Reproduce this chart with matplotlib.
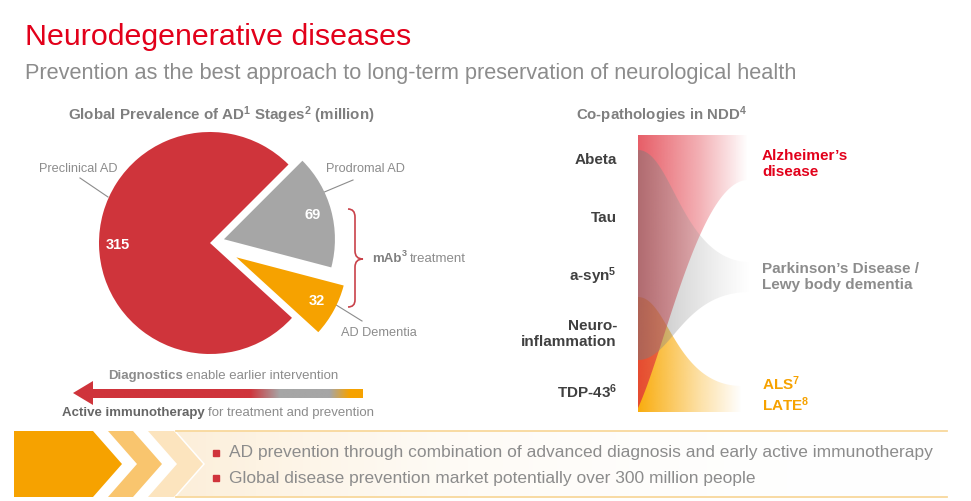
import numpy as np
import matplotlib
matplotlib.use("Agg")
import matplotlib.pyplot as plt
from matplotlib.colors import to_rgb
from matplotlib.patches import Polygon, PathPatch
from matplotlib.path import Path

plt.rcParams['font.family'] = ['Liberation Sans', 'DejaVu Sans']
plt.rcParams['mathtext.fontset'] = 'custom'
plt.rcParams['mathtext.rm'] = 'Liberation Sans'
plt.rcParams['mathtext.bf'] = 'Liberation Sans:bold'
plt.rcParams['mathtext.it'] = 'Liberation Sans:italic'

# ---- data ----
stage_labels = ["Preclinical AD", "AD Dementia", "Prodromal AD"]
stage_values = [315, 32, 69]          # million people
stage_colors = ["#CF343B", "#F6A200", "#A6A6A6"]

pathologies = ["Abeta", "Tau", r"a-syn$^\mathbf{5}$", "Neuro-\ninflammation", r"TDP-43$^\mathbf{6}$"]
diseases = ["Alzheimer’s\ndisease", "Parkinson’s Disease /\nLewy body dementia",
            "ALS$^\\mathbf{7}$\nLATE$^\\mathbf{8}$"]
disease_colors = ["#E2001A", "#8C8C8C", "#F6A200"]

bullets = ["AD prevention through combination of advanced diagnosis and early active immunotherapy",
           "Global disease prevention market potentially over 300 million people"]

GREY = "#8C8C8C"

fig = plt.figure(figsize=(9.71, 5.01), dpi=100)
ax = fig.add_axes([0, 0, 1, 1])
ax.set_xlim(0, 971)
ax.set_ylim(501, 0)
ax.axis("off")
rend = fig.canvas.get_renderer()


def runs(x, y, parts, ha="left"):
    # parts: (text, weight, size, dy, color, gap before); drawn side by side
    objs = []
    for s, w, fs, dy, col, g in parts:
        objs.append(ax.text(x, y + dy, s, fontweight=w, fontsize=fs, color=col, va="center"))
    widths = [t.get_window_extent(rend).width for t in objs]
    gaps = [p[5] for p in parts]
    total = sum(widths) + sum(gaps)
    pos = x - total / 2 if ha == "center" else x
    for t, wd, g in zip(objs, widths, gaps):
        pos += g
        t.set_x(pos)
        pos += wd


def grad_fill(verts, stops, z):
    # horizontal gradient clipped to a polygon
    poly = Polygon(verts, closed=True, facecolor="none", edgecolor="none")
    ax.add_patch(poly)
    xs = np.array([v[0] for v in verts])
    ys = np.array([v[1] for v in verts])
    gx = np.linspace(xs.min(), xs.max(), 400)
    sx = [s[0] for s in stops]
    rgba = np.ones((1, 400, 4))
    for c in range(3):
        rgba[0, :, c] = np.interp(gx, sx, [to_rgb(s[1])[c] for s in stops])
    rgba[0, :, 3] = np.interp(gx, sx, [s[2] for s in stops])
    im = ax.imshow(rgba, extent=(xs.min(), xs.max(), ys.max(), ys.min()),
                   aspect="auto", interpolation="bilinear", zorder=z)
    im.set_clip_path(poly)


def bez(p0, p1, p2, p3, n=60):
    t = np.linspace(0, 1, n)[:, None]
    p0, p1, p2, p3 = map(np.array, (p0, p1, p2, p3))
    return (1 - t) ** 3 * p0 + 3 * (1 - t) ** 2 * t * p1 + 3 * (1 - t) * t ** 2 * p2 + t ** 3 * p3


# ---- titles ----
ax.text(25, 45, "Neurodegenerative diseases", fontsize=21.9, color="#E2001A", va="baseline")
ax.text(25, 79, "Prevention as the best approach to long-term preservation of neurological health",
        fontsize=15.7, color=GREY, va="baseline")
ax.text(221, 115, r"Global Prevalence of AD$^\mathbf{1}$ Stages$^\mathbf{2}$ (million)", fontsize=10.9,
        fontweight="bold", color="#7F7F7F", ha="center", va="center")
ax.text(662, 115, r"Co-pathologies in NDD$^\mathbf{4}$", fontsize=10.8, fontweight="bold",
        color="#7F7F7F", ha="center", va="center")

# ---- pie ----
R = 111
cx, cy = 210, 243
axp = fig.add_axes([(cx - 1.6 * R) / 971, (501 - cy - 1.6 * R) / 501, 3.2 * R / 971, 3.2 * R / 501])
total = sum(stage_values)
axp.pie(stage_values, colors=stage_colors, explode=[0, 0.27, 0.13], startangle=45,
        counterclock=True, autopct=lambda p: f"{p * total / 100:.0f}", pctdistance=0.83,
        textprops=dict(color="white", fontsize=10.5, fontweight="bold"))
axp.set_xlim(-1.6, 1.6)
axp.set_ylim(-1.6, 1.6)
axp.set_aspect("equal")
axp.axis("off")

# leader labels
ax.plot([80, 108], [178, 197], color=GREY, lw=0.8)
ax.text(78, 169, stage_labels[0], fontsize=9.2, color=GREY, ha="center", va="center")
ax.plot([353, 322], [180, 193], color=GREY, lw=0.8)
ax.text(365, 169, stage_labels[2], fontsize=9.2, color=GREY, ha="center", va="center")
ax.plot([333, 362], [303, 321], color=GREY, lw=0.8)
ax.text(379, 333, stage_labels[1], fontsize=9.2, color=GREY, ha="center", va="center")

# brace + mAb treatment
bv = [(348, 209), (355, 209), (355, 217), (355, 251), (355, 259), (363, 259),
      (355, 259), (355, 267), (355, 300), (355, 307), (348, 307)]
bc = [Path.MOVETO, Path.CURVE3, Path.CURVE3, Path.LINETO, Path.CURVE3, Path.CURVE3,
      Path.CURVE3, Path.CURVE3, Path.LINETO, Path.CURVE3, Path.CURVE3]
ax.add_patch(PathPatch(Path(bv, bc), facecolor="none", edgecolor="#C9424A", lw=1.2))
runs(372, 259, [("mAb", "bold", 9.5, 0, "#7F7F7F", 0), ("3", "bold", 6.5, -6, "#7F7F7F", 0),
                ("treatment", "normal", 9.5, 0, GREY, 3)])

# arrow
arrow = [(73, 393), (93, 381), (93, 389), (363, 389), (363, 398), (93, 398), (93, 405)]
grad_fill(arrow, [(73, "#CF343B", 1), (250, "#CF343B", 1), (280, "#A6A6A6", 1),
                  (330, "#A6A6A6", 1), (350, "#F6A200", 1), (363, "#F6A200", 1)], 3)
runs(223, 376, [("Diagnostics", "bold", 9.5, 0, GREY, 0),
                ("enable earlier intervention", "normal", 9.5, 0, GREY, 3.7)], ha="center")
runs(218, 413, [("Active immunotherapy", "bold", 9.5, 0, "#666666", 0),
                ("for treatment and prevention", "normal", 9.5, 0, GREY, 3.7)], ha="center")

# ---- co-pathology flows ----
x0, x1 = 638, 748
for i, name in enumerate(pathologies):
    ax.text(617, 160 + 58 * i, name, fontsize=11, fontweight="bold", color="#404040",
            ha="right", va="center", linespacing=1.1)

orange_top = bez((x0, 297), (668, 297), (675, 386), (742, 386))
orange = [tuple(p) for p in orange_top] + [(742, 412), (x0, 412)]
grad_fill(orange, [(x0, "#F9A800", 0.95), (700, "#F9A800", 0.35), (742, "#F9A800", 0.0)], 2)

red_bot = bez((x0, 408), (665, 350), (700, 180), (x1, 180))
red = [(x0, 135), (x1, 135)] + [tuple(p) for p in red_bot[::-1]]
grad_fill(red, [(x0, "#E0303C", 0.78), (700, "#E0303C", 0.38), (x1, "#E0303C", 0.0)], 2.1)

grey_top = bez((x0, 150), (672, 150), (682, 262), (750, 262))
grey_bot = bez((x0, 360), (672, 360), (682, 292), (750, 292))
grey = [tuple(p) for p in grey_top] + [tuple(p) for p in grey_bot[::-1]]
grad_fill(grey, [(x0, "#7A7A7A", 0.5), (700, "#9A9A9A", 0.25), (750, "#B0B0B0", 0.0)], 2.2)

for (y, name, col) in zip([164, 277, 394], diseases, disease_colors):
    ax.text(762, y, name, fontsize=11, fontweight="bold", color=col, ha="left", va="center",
            linespacing=1.15)

# ---- banner ----
ax.add_patch(Polygon([(14, 431), (93, 431), (122, 464), (93, 497), (14, 497)],
                     facecolor="#F6A200", edgecolor="none"))
ax.add_patch(Polygon([(108, 431), (133, 431), (162, 464), (133, 497), (108, 497), (137, 464)],
                     facecolor="#F9C56E", edgecolor="none"))
ax.add_patch(Polygon([(148, 431), (174, 431), (203, 464), (174, 497), (148, 497), (177, 464)],
                     facecolor="#FCE4BE", edgecolor="none"))
band = [(176, 431), (947, 431), (947, 497), (176, 497), (205, 464)]
grad_fill(band, [(176, "#FCEBD0", 0.8), (450, "#FDF3E3", 0.35), (947, "#FFFFFF", 0.0)], 1)
ax.plot([176, 947], [431, 431], color="#F8D89C", lw=1.3)
ax.plot([176, 947], [497, 497], color="#F8D89C", lw=1.3)
for y, s in zip([453, 478], bullets):
    ax.plot(216, y, marker="s", markersize=4.5, color="#D0343B")
    ax.text(229, y, s, fontsize=12.5, color=GREY, va="center")

ax.set_xlim(0, 971)
ax.set_ylim(501, 0)
fig.savefig("out.png", dpi=100)
